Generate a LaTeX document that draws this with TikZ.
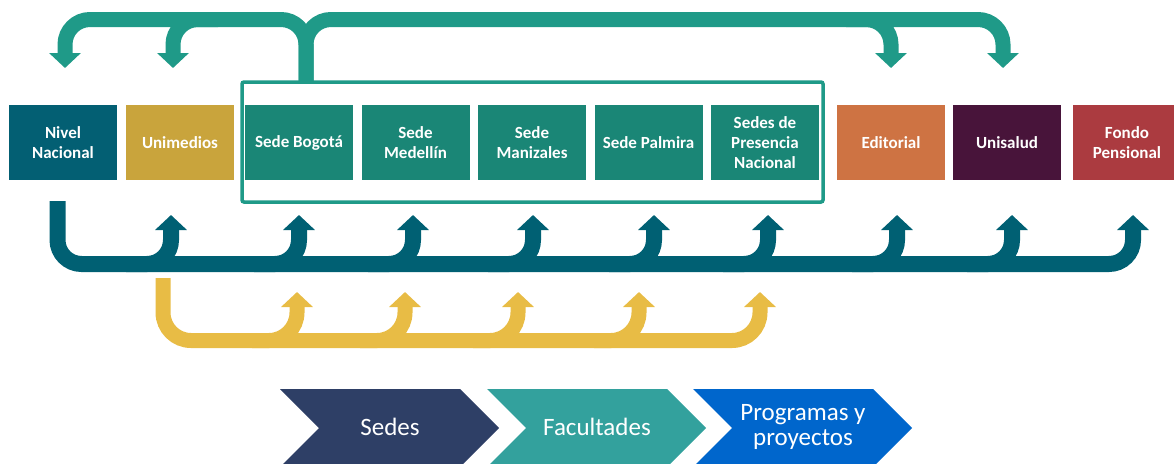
\documentclass[tikz,border=0pt]{standalone}
\usepackage{fontspec}
\setmainfont{Carlito}
\usepackage{tikz}
\usetikzlibrary{arrows.meta}
\definecolor{unNivel}{RGB}{3, 95, 115}
\definecolor{unMedios}{RGB}{201, 164, 60}
\definecolor{unSede}{RGB}{26, 134, 118}
\definecolor{unTeal}{RGB}{31, 154, 136}
\definecolor{unEditorial}{RGB}{206, 115, 67}
\definecolor{unSalud}{RGB}{72, 20, 58}
\definecolor{unFondo}{RGB}{171, 59, 64}
\definecolor{unDark}{RGB}{0, 96, 115}
\definecolor{unYellow}{RGB}{232, 188, 69}
\definecolor{chevSedes}{RGB}{46, 63, 102}
\definecolor{chevFac}{RGB}{51, 161, 157}
\definecolor{chevProg}{RGB}{0, 102, 204}
\tikzset{
    base/.style={
        font=\bfseries\fontsize{17}{20}\selectfont,
        text=white,
        align=center
    },
    unit/.style={
        base,
        rectangle,
        inner sep=0pt,
        minimum width=108pt,
        minimum height=75pt
    },
    sedeframe/.style={
        rectangle,
        draw=unTeal,
        line width=3.5pt,
        rounded corners=2pt,
        minimum width=581pt,
        minimum height=120pt
    },
    topflow/.style={
        draw=unTeal,
        line width=15pt,
        rounded corners=25pt,
        -{Triangle[width=31pt, length=15pt]}
    },
    darkflow/.style={
        draw=unDark,
        line width=16pt,
        rounded corners=24pt,
        -{Triangle[width=31pt, length=15pt]}
    },
    yellowflow/.style={
        draw=unYellow,
        line width=15pt,
        rounded corners=28pt,
        -{Triangle[width=31pt, length=15pt]}
    },
    chevlabel/.style={
        font=\fontsize{25}{25}\selectfont,
        text=white,
        align=center,
        inner sep=0pt
    }
}

\begin{document}
\begin{tikzpicture}[x=1pt, y=-1pt]
    \useasboundingbox (0,0) rectangle (1174,463);

    % Units
    \foreach \name/\x/\col/\txt in {
        niv/63/unNivel/{Nivel\\Nacional},
        uni/180/unMedios/Unimedios,
        bog/299/unSede/{Sede Bogot\'a},
        med/415.5/unSede/{Sede\\Medell\'in},
        man/532/unSede/{Sede\\Manizales},
        pal/648.5/unSede/{Sede Palmira},
        pre/765/unSede/{Sedes de\\Presencia\\Nacional},
        edi/891/unEditorial/Editorial,
        uns/1007/unSalud/Unisalud,
        fon/1127/unFondo/{Fondo\\Pensional}} {
        \node[unit, fill=\col] (\name) at (\x,142.5) {\txt};
    }
    \node[sedeframe] (sedes) at (532.5,142) {};

    % Top arrows
    \coordinate (stem) at (306,82);
    \coordinate (tp-niv) at (65,68);
    \coordinate (tp-uni) at (173,68);
    \coordinate (tp-edi) at (891,68);
    \coordinate (tp-uns) at (1003,68);
    \draw[topflow] (stem) -- (stem |- 0,19.5) -- (tp-niv |- 0,19.5) -- (tp-niv);
    \draw[topflow] (stem) -- (stem |- 0,19.5) -- (tp-uns |- 0,19.5) -- (tp-uns);
    \draw[topflow] (218,19.5) -- (tp-uni |- 0,19.5) -- (tp-uni);
    \draw[topflow] (846,19.5) -- (tp-edi |- 0,19.5) -- (tp-edi);

    % Nivel Nacional arrows
    \coordinate (dk-start) at (57.5,201);
    \coordinate (dk-fon) at (1133,215);
    \draw[darkflow] (dk-start) -- (dk-start |- 0,264) -- (dk-fon |- 0,264) -- (dk-fon);
    \foreach \tip/\x in {uni/171, bog/299, med/413, man/533, pal/654, pre/768, edi/897, uns/1012} {
        \coordinate (dk-\tip) at (\x,215);
        \draw[darkflow] (\x-45,264) -- (dk-\tip |- 0,264) -- (dk-\tip);
    }

    % Unimedios arrows
    \coordinate (yl-start) at (163,278);
    \coordinate (yl-pre) at (760,292);
    \draw[yellowflow] (yl-start) -- (yl-start |- 0,340.5) -- (yl-pre |- 0,340.5) -- (yl-pre);
    \foreach \tip/\x in {bog/297, med/405, man/518, pal/639} {
        \coordinate (yl-\tip) at (\x,292);
        \draw[yellowflow] (\x-45,340.5) -- (yl-\tip |- 0,340.5) -- (yl-\tip);
    }

    % Chevrons
    \foreach \name/\x/\col/\txt in {
        chsedes/280/chevSedes/Sedes,
        chfac/487/chevFac/Facultades,
        chprog/693/chevProg/{Programas y\\proyectos}} {
        \fill[\col] (\x,389) -- ++(180,0) -- ++(39,39) -- ++(-39,39) -- ++(-180,0) -- ++(39,-39) -- cycle;
        \node[chevlabel] (\name) at (\x+110,427) {\txt};
    }

\end{tikzpicture}
\end{document}
